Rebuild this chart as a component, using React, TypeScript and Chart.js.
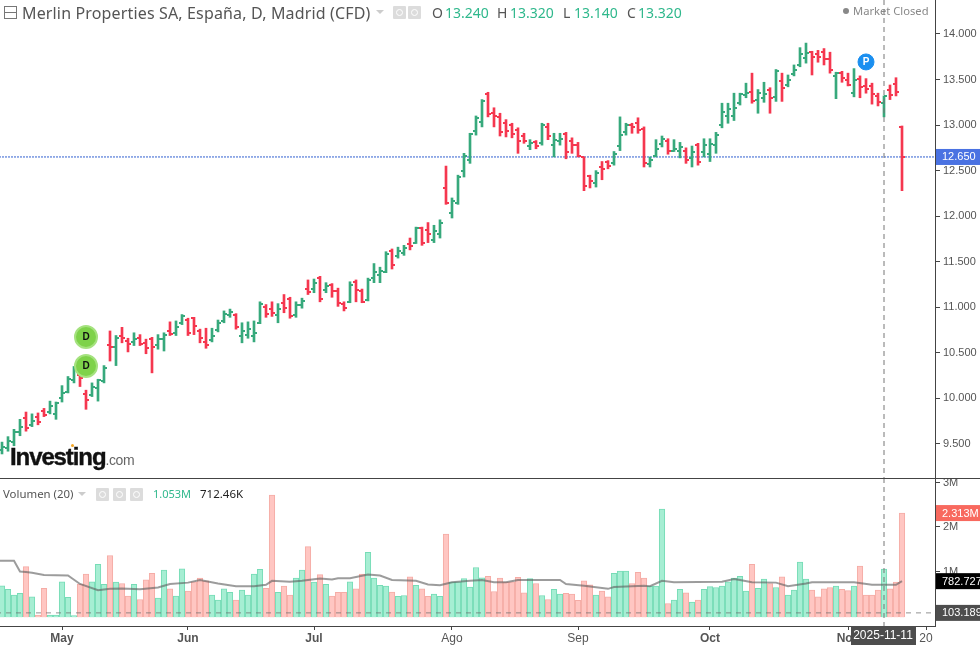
import React, { useEffect, useRef } from "react";
import { Chart, registerables } from "chart.js";

Chart.register(...registerables);

// daily bars, index 0 = 17 Apr 2025, last = 14 Nov 2025
const opens = [
  9.43, 9.46, 9.52, 9.63, 9.78, 9.71, 9.8, 9.86, 9.85, 9.83,
  10.0, 10.07, 10.2, 10.26, 10.05, 10.04, 10.11, 10.19, 10.59, 10.56,
  10.69, 10.63, 10.62, 10.66, 10.61, 10.65, 10.59, 10.65, 10.74, 10.72,
  10.83, 10.86, 10.88, 10.74, 10.62, 10.64, 10.75, 10.85, 10.92, 10.91,
  10.68, 10.7, 10.68, 10.83, 11.0, 10.98, 10.92, 11.05, 11.09, 10.91,
  11.03, 11.2, 11.2, 11.32, 11.19, 11.24, 11.18, 11.04, 11.06, 11.28,
  11.18, 11.08, 11.32, 11.35, 11.39, 11.62, 11.56, 11.6, 11.69, 11.71,
  11.87, 11.85, 11.74, 11.8, 12.31, 12.04, 12.15, 12.5, 12.62, 12.93,
  13.03, 13.34, 13.13, 13.09, 13.02, 13.0, 12.95, 12.88, 12.77, 12.81,
  12.8, 12.98, 12.78, 12.82, 12.9, 12.83, 12.78, 12.65, 12.44, 12.36,
  12.54, 12.6, 12.58, 12.77, 12.92, 13.0, 13.02, 12.96, 12.57, 12.66,
  12.79, 12.83, 12.72, 12.71, 12.72, 12.64, 12.78, 12.7, 12.68, 12.78,
  13.0, 13.1, 13.1, 13.24, 13.33, 13.36, 13.28, 13.3, 13.38, 13.31,
  13.48, 13.44, 13.56, 13.66, 13.74, 13.8, 13.78, 13.8, 13.72, 13.54,
  13.57, 13.5, 13.35, 13.51, 13.43, 13.43, 13.32, 13.24, 13.38, 13.45, 12.98,
];
const highs = [
  9.52, 9.58, 9.66, 9.77, 9.85, 9.83, 9.84, 9.89, 9.97, 9.96,
  10.14, 10.24, 10.35, 10.28, 10.09, 10.17, 10.21, 10.36, 10.74, 10.69,
  10.78, 10.66, 10.72, 10.7, 10.65, 10.67, 10.7, 10.72, 10.84, 10.85,
  10.92, 10.88, 10.89, 10.76, 10.77, 10.77, 10.86, 10.96, 10.98, 10.93,
  10.83, 10.84, 10.85, 11.06, 11.03, 11.06, 11.04, 11.14, 11.11, 11.06,
  11.1, 11.3, 11.31, 11.34, 11.27, 11.26, 11.21, 11.06, 11.28, 11.3,
  11.2, 11.32, 11.48, 11.44, 11.61, 11.64, 11.66, 11.68, 11.76, 11.88,
  11.88, 11.93, 11.9, 11.96, 12.55, 12.2, 12.45, 12.69, 12.91, 13.1,
  13.28, 13.36, 13.19, 13.13, 13.06, 13.02, 12.97, 12.91, 12.84, 12.83,
  13.02, 13.02, 12.91, 12.91, 12.92, 12.86, 12.81, 12.65, 12.45, 12.5,
  12.6, 12.61, 12.71, 13.09, 13.02, 13.02, 13.08, 12.98, 12.65, 12.84,
  12.88, 12.85, 12.84, 12.81, 12.75, 12.77, 12.8, 12.85, 12.85, 12.92,
  13.24, 13.24, 13.35, 13.35, 13.46, 13.57, 13.39, 13.47, 13.41, 13.61,
  13.57, 13.55, 13.66, 13.85, 13.9, 13.81, 13.82, 13.84, 13.8, 13.58,
  13.59, 13.57, 13.62, 13.54, 13.51, 13.46, 13.35, 13.32, 13.44, 13.52, 12.99,
];
const lows = [
  9.39, 9.42, 9.48, 9.59, 9.64, 9.69, 9.71, 9.8, 9.83, 9.77,
  9.96, 10.06, 10.17, 10.13, 9.88, 10.02, 9.97, 10.17, 10.41, 10.36,
  10.61, 10.51, 10.58, 10.58, 10.49, 10.28, 10.54, 10.52, 10.69, 10.69,
  10.81, 10.69, 10.7, 10.61, 10.55, 10.62, 10.73, 10.83, 10.89, 10.76,
  10.61, 10.66, 10.62, 10.82, 10.89, 10.9, 10.83, 10.94, 10.88, 10.89,
  10.99, 11.14, 11.16, 11.06, 11.16, 11.11, 11.01, 10.96, 11.05, 11.06,
  11.05, 11.07, 11.27, 11.27, 11.38, 11.42, 11.54, 11.57, 11.63, 11.7,
  11.68, 11.71, 11.71, 11.76, 12.13, 11.98, 12.13, 12.43, 12.58, 12.89,
  12.98, 13.09, 12.98, 12.88, 12.87, 12.86, 12.69, 12.8, 12.73, 12.74,
  12.78, 12.84, 12.65, 12.78, 12.63, 12.69, 12.65, 12.28, 12.31, 12.32,
  12.4, 12.52, 12.56, 12.72, 12.89, 12.91, 12.91, 12.54, 12.54, 12.65,
  12.76, 12.68, 12.71, 12.64, 12.58, 12.54, 12.56, 12.65, 12.6, 12.69,
  12.97, 13.02, 13.05, 13.22, 13.3, 13.24, 13.13, 13.25, 13.13, 13.26,
  13.26, 13.42, 13.54, 13.64, 13.68, 13.55, 13.69, 13.66, 13.57, 13.29,
  13.47, 13.43, 13.31, 13.3, 13.35, 13.23, 13.21, 13.09, 13.28, 13.32, 12.28,
];
const closes = [
  9.47, 9.53, 9.63, 9.69, 9.68, 9.75, 9.74, 9.82, 9.92, 9.95,
  10.06, 10.21, 10.31, 10.22, 9.98, 10.13, 10.2, 10.33, 10.56, 10.66,
  10.66, 10.6, 10.65, 10.6, 10.55, 10.56, 10.65, 10.7, 10.71, 10.78,
  10.9, 10.72, 10.79, 10.66, 10.59, 10.68, 10.83, 10.93, 10.95, 10.78,
  10.74, 10.76, 10.72, 11.04, 10.93, 10.94, 10.98, 10.99, 10.9, 11.02,
  11.07, 11.17, 11.27, 11.09, 11.23, 11.18, 11.05, 10.99, 11.25, 11.19,
  11.06, 11.3, 11.39, 11.4, 11.59, 11.46, 11.62, 11.65, 11.67, 11.87,
  11.71, 11.8, 11.84, 11.93, 12.14, 12.17, 12.43, 12.66, 12.9, 13.08,
  13.26, 13.12, 13.1, 12.92, 12.94, 12.9, 12.82, 12.83, 12.8, 12.77,
  13.0, 12.88, 12.84, 12.85, 12.7, 12.78, 12.66, 12.33, 12.39, 12.47,
  12.52, 12.55, 12.68, 12.89, 13.0, 12.98, 12.95, 12.58, 12.62, 12.74,
  12.85, 12.72, 12.74, 12.76, 12.62, 12.7, 12.6, 12.78, 12.79, 12.89,
  13.14, 13.18, 13.19, 13.34, 13.35, 13.26, 13.35, 13.34, 13.3, 13.59,
  13.41, 13.5, 13.61, 13.78, 13.79, 13.75, 13.75, 13.72, 13.6, 13.57,
  13.52, 13.44, 13.5, 13.42, 13.4, 13.34, 13.25, 13.32, 13.33, 13.36, 12.65,
];
// volume in millions
const volumes = [
  0.68, 0.6, 0.47, 0.51, 1.11, 0.43, 0.02, 0.62, 0.02, 0.02,
  0.77, 0.42, 0.01, 0.72, 0.94, 0.77, 1.16, 0.71, 1.36, 0.76,
  0.73, 0.45, 0.71, 0.37, 0.81, 0.96, 0.4, 1.03, 0.61, 0.45,
  1.06, 0.56, 0.77, 0.85, 0.79, 0.47, 0.36, 0.61, 0.53, 0.36,
  0.58, 0.47, 0.94, 1.05, 0.62, 2.72, 0.53, 0.67, 0.47, 0.85,
  1.03, 1.56, 0.76, 0.93, 0.71, 0.45, 0.53, 0.53, 0.77, 0.61,
  0.94, 1.43, 0.85, 0.69, 0.67, 0.54, 0.44, 0.46, 0.88, 0.69,
  0.61, 0.44, 0.49, 0.44, 1.84, 0.76, 0.77, 0.84, 0.65, 1.09,
  0.86, 0.89, 0.55, 0.85, 0.76, 0.77, 0.87, 0.52, 0.84, 0.73,
  0.46, 0.37, 0.6, 0.49, 0.51, 0.49, 0.35, 0.79, 0.7, 0.47,
  0.56, 0.43, 0.96, 1.01, 1.01, 0.73, 0.98, 0.85, 0.67, 0.67,
  2.4, 0.28, 0.36, 0.6, 0.52, 0.31, 0.36, 0.6, 0.66, 0.64,
  0.67, 0.77, 0.85, 0.89, 0.56, 1.16, 0.62, 0.83, 0.73, 0.64,
  0.88, 0.47, 0.58, 1.21, 0.83, 0.58, 0.43, 0.61, 0.64, 0.67,
  0.6, 0.57, 0.67, 1.12, 0.47, 0.47, 0.58, 1.053, 0.61, 0.76, 2.313,
];
// volume average read at the bends of the line
const volMaAt = [
  -1, 2, 3, 4, 5, 7, 11, 13, 16, 18, 20, 23, 26, 28, 31, 33, 36, 39, 42, 44, 45, 48, 50, 53, 55,
  56, 58, 61, 63, 65, 69, 71, 73, 75, 78, 80, 82, 84, 86, 93, 94, 97, 101, 102, 107, 108,
  110, 112, 120, 122, 123, 125, 129, 131, 134, 135, 142, 145, 149, 150,
];
const volMa = [
  1.24, 1.24, 1.0, 0.99, 0.97, 0.92, 0.91, 0.72, 0.58, 0.61, 0.62, 0.6, 0.64, 0.72, 0.75, 0.81, 0.73, 0.67, 0.67, 0.7, 0.79, 0.77, 0.79, 0.84, 0.82,
  0.85, 0.85, 0.93, 0.91, 0.81, 0.79, 0.71, 0.69, 0.76, 0.79, 0.81, 0.76, 0.76, 0.81, 0.81, 0.72, 0.68, 0.61, 0.65, 0.68, 0.67,
  0.79, 0.76, 0.77, 0.83, 0.81, 0.76, 0.75, 0.67, 0.73, 0.76, 0.76, 0.7, 0.7, 0.783,
];

const tickAt = [10, 31, 52, 75, 96, 118, 141, 154];
const tickLabels = ["May", "Jun", "Jul", "Ago", "Sep", "Oct", "Nov", "20"];
const boldTicks = ["May", "Jun", "Jul", "Oct", "Nov"];

const lastPrice = 12.65;
const cursorAt = 147;
const cursorDate = "2025-11-11";
const volLow = 0.07;
const dividends = [
  { x: 14, y: 10.674 },
  { x: 14, y: 10.356 },
];
const pivot = [{ x: 144, y: 13.693 }];
const ohlcLabels = [
  ["O", "13.240", 432, 445],
  ["H", "13.320", 497, 510],
  ["L", "13.140", 563, 574],
  ["C", "13.320", 627, 638],
];

const UP = "#37a97c";
const DOWN = "#f5374f";
const FONT = '"Liberation Sans", Arial, sans-serif';
const ui = '"Noto Sans", sans-serif';

const isUp = opens.map((o, i) => closes[i] >= o);

function makeTick(side: "left" | "right", color: string) {
  const c = document.createElement("canvas");
  c.width = 8;
  c.height = 2;
  const g = c.getContext("2d")!;
  g.fillStyle = color;
  if (side === "left") g.fillRect(1, 0, 3, 2);
  else g.fillRect(4, 0, 3, 2);
  return c;
}

const overlay = {
  id: "overlay",
  afterDatasetsDraw(chart: any) {
    const { ctx, scales } = chart;
    ctx.save();
    ctx.textBaseline = "middle";
    ctx.textAlign = "center";
    ctx.font = `bold 10px ${FONT}`;
    ctx.fillStyle = "#111";
    dividends.forEach((d) => {
      ctx.fillText("D", scales.x.getPixelForValue(d.x), scales.price.getPixelForValue(d.y));
    });
    ctx.fillStyle = "#fff";
    pivot.forEach((d) => {
      ctx.fillText("P", scales.x.getPixelForValue(d.x), scales.price.getPixelForValue(d.y));
    });
    ctx.restore();
  },
  afterDraw(chart: any) {
    const { ctx, scales, chartArea, width, height } = chart;
    ctx.save();
    // pane separator
    ctx.fillStyle = "#444";
    ctx.fillRect(0, Math.round(scales.price.bottom), width, 1);

    ctx.textBaseline = "middle";
    const badge = (y: number, bg: string, text: string) => {
      ctx.fillStyle = bg;
      ctx.fillRect(chartArea.right + 1, y - 8, width - chartArea.right, 16);
      ctx.fillStyle = "#fff";
      ctx.textAlign = "left";
      ctx.font = `11px ${FONT}`;
      ctx.fillText(text, chartArea.right + 7, y + 0.5);
    };
    badge(scales.price.getPixelForValue(lastPrice), "#4a72e2", "12.650");
    badge(scales.vol.getPixelForValue(2.313), "#f8695e", "2.313M");
    badge(scales.vol.getPixelForValue(0.783), "#000", "782.727");
    badge(scales.vol.getPixelForValue(volLow), "#4d4d4d", "103.189");

    const cx = scales.x.getPixelForValue(cursorAt);
    ctx.fillStyle = "#4d4d4d";
    ctx.fillRect(cx - 33, chartArea.bottom, 65, height - chartArea.bottom);
    ctx.fillStyle = "#fff";
    ctx.textAlign = "center";
    ctx.font = `12px ${FONT}`;
    ctx.fillText(cursorDate, cx - 1, chartArea.bottom + 10);
    ctx.restore();
  },
};

const abs = (left: number, top: number, extra: React.CSSProperties = {}): React.CSSProperties => ({
  position: "absolute",
  left,
  top,
  whiteSpace: "nowrap",
  lineHeight: 1,
  ...extra,
});

const GreyIcon = ({ left, top, size = 13 }: { left: number; top: number; size?: number }) => (
  <div style={abs(left, top, { width: size, height: size, background: "#dcdcdc", borderRadius: 1 })}>
    <div
      style={{
        position: "absolute",
        left: 3,
        top: 3,
        width: size - 8,
        height: size - 8,
        border: "1px solid #fff",
        borderRadius: "50%",
      }}
    />
  </div>
);

const Caret = ({ left, top }: { left: number; top: number }) => (
  <div
    style={abs(left, top, {
      width: 0,
      height: 0,
      borderLeft: "4px solid transparent",
      borderRight: "4px solid transparent",
      borderTop: "4px solid #ccc",
    })}
  />
);

const App: React.FC = () => {
  const chartRef = useRef<HTMLCanvasElement | null>(null);

  useEffect(() => {
    if (!chartRef.current) return;
    const ctx = chartRef.current.getContext("2d");
    if (!ctx) return;

    const openUp = makeTick("left", UP);
    const openDown = makeTick("left", DOWN);
    const closeUp = makeTick("right", UP);
    const closeDown = makeTick("right", DOWN);

    const fitY = (scale: any) => {
      scale.width = 45;
      scale.paddingTop = 0;
      scale.paddingBottom = 0;
    };

    const chart = new Chart(ctx, {
      type: "bar",
      data: {
        datasets: [
          {
            type: "bar",
            label: "Volumen",
            yAxisID: "vol",
            data: volumes.map((v, i) => ({ x: i, y: v })),
            backgroundColor: isUp.map((u) => (u ? "#a6eed3" : "#ffc6c2")),
            borderColor: isUp.map((u) => (u ? "#76dcb6" : "#f5aca6")),
            borderWidth: 1,
            barThickness: 5.6,
            grouped: false,
            base: -0.03,
            order: 9,
          },
          {
            type: "line",
            label: "low",
            yAxisID: "vol",
            data: [
              { x: -1, y: volLow },
              { x: 156, y: volLow },
            ],
            borderColor: "rgba(110,110,110,0.75)",
            borderWidth: 1,
            borderDash: [5, 5],
            pointRadius: 0,
            order: 8,
          },
          {
            type: "line",
            label: "MA",
            yAxisID: "vol",
            data: volMaAt.map((x, i) => ({ x, y: volMa[i] })),
            borderColor: "rgba(95,95,95,0.62)",
            borderWidth: 2,
            pointRadius: 0,
            order: 7,
          },
          {
            type: "line",
            label: "last",
            yAxisID: "price",
            data: [
              { x: -1, y: lastPrice },
              { x: 156, y: lastPrice },
            ],
            borderColor: "#2f5fd0",
            borderWidth: 1,
            borderDash: [2, 1],
            pointRadius: 0,
            order: 6,
          },
          {
            type: "bar",
            label: "range",
            yAxisID: "price",
            data: highs.map((h, i) => ({ x: i, y: [lows[i], h] })) as any,
            backgroundColor: isUp.map((u) => (u ? UP : DOWN)),
            barThickness: 2,
            borderWidth: 0,
            grouped: false,
            order: 5,
          },
          {
            type: "line",
            label: "open",
            yAxisID: "price",
            data: opens.map((y, x) => ({ x, y })),
            showLine: false,
            pointRadius: 4,
            pointStyle: (c: any) => (isUp[c.dataIndex] ? openUp : openDown),
            order: 4,
          },
          {
            type: "line",
            label: "close",
            yAxisID: "price",
            data: closes.map((y, x) => ({ x, y })),
            showLine: false,
            pointRadius: 4,
            pointStyle: (c: any) => (isUp[c.dataIndex] ? closeUp : closeDown),
            order: 4,
          },
          {
            type: "line",
            label: "cursor",
            yAxisID: "price",
            data: [
              { x: cursorAt, y: 14.373 },
              { x: cursorAt, y: 9.126 },
            ],
            borderColor: "#777",
            borderWidth: 1,
            borderDash: [5, 4],
            pointRadius: 0,
            order: 3,
          },
          {
            type: "line",
            label: "cursor2",
            yAxisID: "vol",
            data: [
              { x: cursorAt, y: 3.101 },
              { x: cursorAt, y: -0.2247 },
            ],
            borderColor: "#777",
            borderWidth: 1,
            borderDash: [5, 4],
            pointRadius: 0,
            order: 3,
          },
          {
            type: "line",
            label: "D",
            yAxisID: "price",
            data: dividends,
            showLine: false,
            pointRadius: 11,
            pointBackgroundColor: "#7ed24a",
            pointBorderColor: "#a5e27f",
            pointBorderWidth: 2,
            order: 1,
          },
          {
            type: "line",
            label: "P",
            yAxisID: "price",
            data: pivot,
            showLine: false,
            pointRadius: 8,
            pointBackgroundColor: "#1a8ff0",
            pointBorderColor: "#1a8ff0",
            order: 1,
          },
        ] as any,
      },
      options: {
        responsive: false,
        animation: false,
        devicePixelRatio: 1,
        events: [],
        layout: { padding: 0, autoPadding: false },
        plugins: { legend: { display: false }, tooltip: { enabled: false } },
        scales: {
          x: {
            type: "linear",
            offset: false,
            min: -1 / 3,
            max: 933 / 6,
            afterFit: (scale: any) => {
              scale.height = 19;
              scale.paddingLeft = 0;
              scale.paddingRight = 0;
            },
            afterBuildTicks: (scale: any) => {
              scale.ticks = tickAt.map((value) => ({ value }));
            },
            border: { color: "#444" },
            grid: { offset: false, drawOnChartArea: false, drawTicks: true, tickLength: 4, color: "#444" },
            ticks: {
              autoSkip: false,
              maxRotation: 0,
              padding: 1,
              color: "#555",
              font: (c: any) => {
                const label = tickLabels[tickAt.indexOf(c.tick?.value)];
                return { family: FONT, size: 12, weight: boldTicks.includes(label) ? "bold" : "normal" };
              },
              callback: (value: any) => tickLabels[tickAt.indexOf(value)] ?? "",
            },
          },
          price: {
            type: "linear",
            position: "right",
            stack: "panes",
            stackWeight: 478,
            min: 9.126,
            max: 14.373,
            afterFit: fitY,
            border: { color: "#444" },
            grid: { drawOnChartArea: false, drawTicks: true, tickLength: 5, color: "#444" },
            ticks: {
              stepSize: 0.5,
              includeBounds: false,
              padding: 3,
              color: "#555",
              font: { family: FONT, size: 11 },
              callback: (value: any) => Number(value).toFixed(3),
            },
          },
          vol: {
            type: "linear",
            position: "right",
            stack: "panes",
            stackWeight: 148,
            min: -0.2247,
            max: 3.101,
            afterFit: fitY,
            border: { color: "#444" },
            grid: { drawOnChartArea: false, drawTicks: true, tickLength: 5, color: "#444" },
            ticks: {
              stepSize: 1,
              includeBounds: false,
              padding: 3,
              color: "#555",
              font: { family: FONT, size: 11 },
              callback: (value: any) => (value > 0 ? `${value}M` : ""),
            },
          },
        },
      },
      plugins: [overlay],
    } as any);

    return () => chart.destroy();
  }, []);

  return (
    <div style={{ position: "absolute", left: 0, top: 0, width: 980, height: 645, background: "#fff", overflow: "hidden" }}>
      <canvas ref={chartRef} width={980} height={645} style={{ position: "absolute", left: 0, top: 0 }} />

      {/* top legend */}
      <div style={abs(4, 6, { width: 11, height: 11, border: "1px solid #777" })}>
        <div style={{ position: "absolute", left: 0, right: 0, top: 5, height: 1, background: "#777" }} />
      </div>
      <div style={abs(22, 2, { font: `16px ${ui}`, letterSpacing: 0.15, color: "#555", lineHeight: "20px" })}>Merlin Properties SA, España, D, Madrid (CFD)</div>
      <Caret left={376} top={10} />
      <GreyIcon left={393} top={6} />
      <GreyIcon left={408} top={6} />
      {ohlcLabels.map(([k, v, x, vx]) => (
        <React.Fragment key={k as string}>
          <div style={abs(x as number, 3, { font: `14px ${ui}`, color: "#555", lineHeight: "18px" })}>{k}</div>
          <div style={abs(vx as number, 3, { font: `14px ${ui}`, color: "#2fb88c", lineHeight: "18px" })}>{v}</div>
        </React.Fragment>
      ))}
      <div style={abs(843, 8, { width: 6, height: 6, borderRadius: 3, background: "#888" })} />
      <div style={abs(853, 3, { font: `11.2px ${ui}`, color: "#888", lineHeight: "16px" })}>Market Closed</div>

      {/* logo */}
      <div style={abs(10, 443, { font: `bold 24px ${FONT}`, letterSpacing: -1.1, color: "#111", WebkitTextStroke: "0.4px #111" })}>
        Investing
        <span style={{ font: `14px ${FONT}`, letterSpacing: -0.4, color: "#666", WebkitTextStroke: "0" }}>.com</span>
      </div>
      <div style={abs(71, 444, { width: 3, height: 3, borderRadius: 2, background: "#f5a623" })} />

      {/* volume legend */}
      <div style={abs(3, 486, { font: `11.4px ${ui}`, color: "#555", lineHeight: "16px" })}>Volumen (20)</div>
      <Caret left={78} top={492} />
      <GreyIcon left={96} top={488} />
      <GreyIcon left={113} top={488} />
      <GreyIcon left={130} top={488} />
      <div style={abs(153, 486, { font: `11px ${ui}`, color: "#2fb88c", lineHeight: "16px" })}>1.053M</div>
      <div style={abs(200, 486, { font: `11.5px ${ui}`, color: "#222", lineHeight: "16px" })}>712.46K</div>
    </div>
  );
};

export default App;
